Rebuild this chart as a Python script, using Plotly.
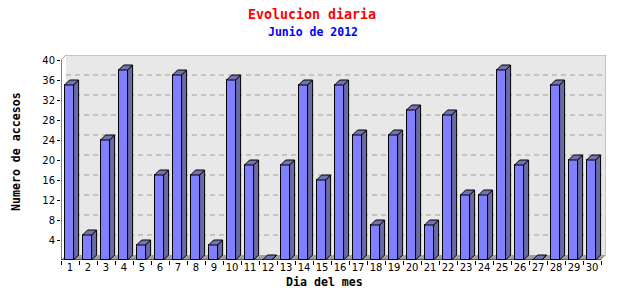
import plotly.graph_objects as go

days = list(range(1, 31))
visits = [35, 5, 24, 38, 3, 17, 37, 17, 3, 36, 19, 0, 19, 35, 16, 35, 25, 7, 25, 30,
          7, 29, 13, 13, 38, 19, 0, 35, 20, 20]
y_ticks = [4, 8, 12, 16, 20, 24, 28, 32, 36, 40]
x_labels = [str(d) for d in days]

title = "Evolucion diaria"
subtitle = "Junio de 2012"
x_title = "Dia del mes"
y_title = "Numero de accesos"

# 3D look parameters (in axis units)
DX = 0.278   # depth offset along x
DY = 1.0     # depth offset along y
W = 0.5      # front face width
OFF = -0.3   # front face offset from day position

FRONT = "#8080ff"
SIDE = "#6a6aa6"
TOP = "#7373b3"
WALL = "#e8e8e8"
GRID = "#a0a0a0"
FLOOR = "#a0a0a0"

x0, x1 = 0.5, 30.5
ymax = 40

fig = go.Figure()

sx, sy = [], []
tx, ty = [], []
for d, v in zip(days, visits):
    r = d + OFF + W
    l = d + OFF
    sx += [r, r + DX, r + DX, r, r, None]
    sy += [0, DY, v + DY, v, 0, None]
    tx += [l, r, r + DX, l + DX, l, None]
    ty += [v, v, v + DY, v + DY, v, None]

fig.add_trace(go.Bar(x=days, y=visits, width=W, offset=OFF,
                     marker=dict(color=FRONT, line=dict(color="black", width=1)),
                     hoverinfo="skip"))
fig.add_trace(go.Scatter(x=sx, y=sy, mode="lines", fill="toself", fillcolor=SIDE,
                         line=dict(color="black", width=1), hoverinfo="skip"))
fig.add_trace(go.Scatter(x=tx, y=ty, mode="lines", fill="toself", fillcolor=TOP,
                         line=dict(color="black", width=1), hoverinfo="skip"))

shapes = []
shapes.append(dict(type="rect", xref="x", yref="y", x0=x0 + DX, x1=x1 + DX,
                   y0=DY, y1=ymax + DY, fillcolor=WALL, line=dict(width=0), layer="below"))
shapes.append(dict(type="path", xref="x", yref="y",
                   path=f"M {x0},0 L {x1},0 L {x1+DX},{DY} L {x0+DX},{DY} Z",
                   fillcolor=FLOOR, line=dict(width=0), layer="below"))
for v in y_ticks[:-1]:
    shapes.append(dict(type="line", xref="x", yref="y", x0=x0 + DX, x1=x1 + DX,
                       y0=v + DY, y1=v + DY, line=dict(color=GRID, width=1, dash="5px,4px"),
                       layer="below"))
shapes.append(dict(type="path", xref="x", yref="y",
                   path=f"M {x0},{ymax} L {x0+DX},{ymax+DY} L {x1+DX},{ymax+DY} L {x1+DX},{DY}",
                   line=dict(color=GRID, width=1), layer="below"))
shapes.append(dict(type="line", xref="x", yref="y", x0=x0, x1=x0, y0=0, y1=ymax,
                   line=dict(color="black", width=1)))
shapes.append(dict(type="line", xref="x", yref="y", x0=x0, x1=x1, y0=0, y1=0,
                   line=dict(color="black", width=1)))

L, R, T, B = 61, 34, 55, 40
PW = 640 - L - R
PH = 300 - T - B

def px(x):
    return (x - L) / PW

def py(y):
    return (300 - B - y) / PH

mono = "DejaVu Sans Mono"
annotations = [
    dict(text=f"<b>{title}</b>", x=px(312), y=py(14), xref="paper", yref="paper",
         showarrow=False, font=dict(family=mono, size=13.3, color="#ff0000"),
         xanchor="center", yanchor="middle"),
    dict(text=f"<b>{subtitle}</b>", x=px(313), y=py(32), xref="paper", yref="paper",
         showarrow=False, font=dict(family=mono, size=11.5, color="#0000ff"),
         xanchor="center", yanchor="middle"),
    dict(text=f"<b>{x_title}</b>", x=px(324), y=py(282), xref="paper", yref="paper",
         showarrow=False, font=dict(family=mono, size=11.6, color="black"),
         xanchor="center", yanchor="middle"),
    dict(text=f"<b>{y_title}</b>", x=px(16), y=py(152), xref="paper", yref="paper",
         showarrow=False, textangle=-90, font=dict(family=mono, size=11.6, color="black"),
         xanchor="center", yanchor="middle"),
]

fig.update_layout(
    width=640, height=300,
    margin=dict(l=L, r=R, t=T, b=B, pad=0),
    paper_bgcolor="white", plot_bgcolor="white",
    showlegend=False,
    shapes=shapes,
    annotations=annotations,
    bargap=0,
    xaxis=dict(range=[x0, x1 + DX], tickvals=days, ticktext=x_labels, ticks="",
               showgrid=False, zeroline=False, showline=False,
               tickfont=dict(family="DejaVu Sans", size=10, color="black"),
               minor=dict(tickvals=[d + 0.5 for d in range(0, 31)], ticks="outside",
                          ticklen=4, tickcolor="black", showgrid=False),
               fixedrange=True),
    yaxis=dict(range=[0, ymax + DY], tickvals=y_ticks, ticks="outside", ticklen=3,
               tickcolor="black", showgrid=False, zeroline=False, showline=False,
               tickfont=dict(family="DejaVu Sans", size=10, color="black"),
               fixedrange=True),
)

fig.write_html("out.html")
